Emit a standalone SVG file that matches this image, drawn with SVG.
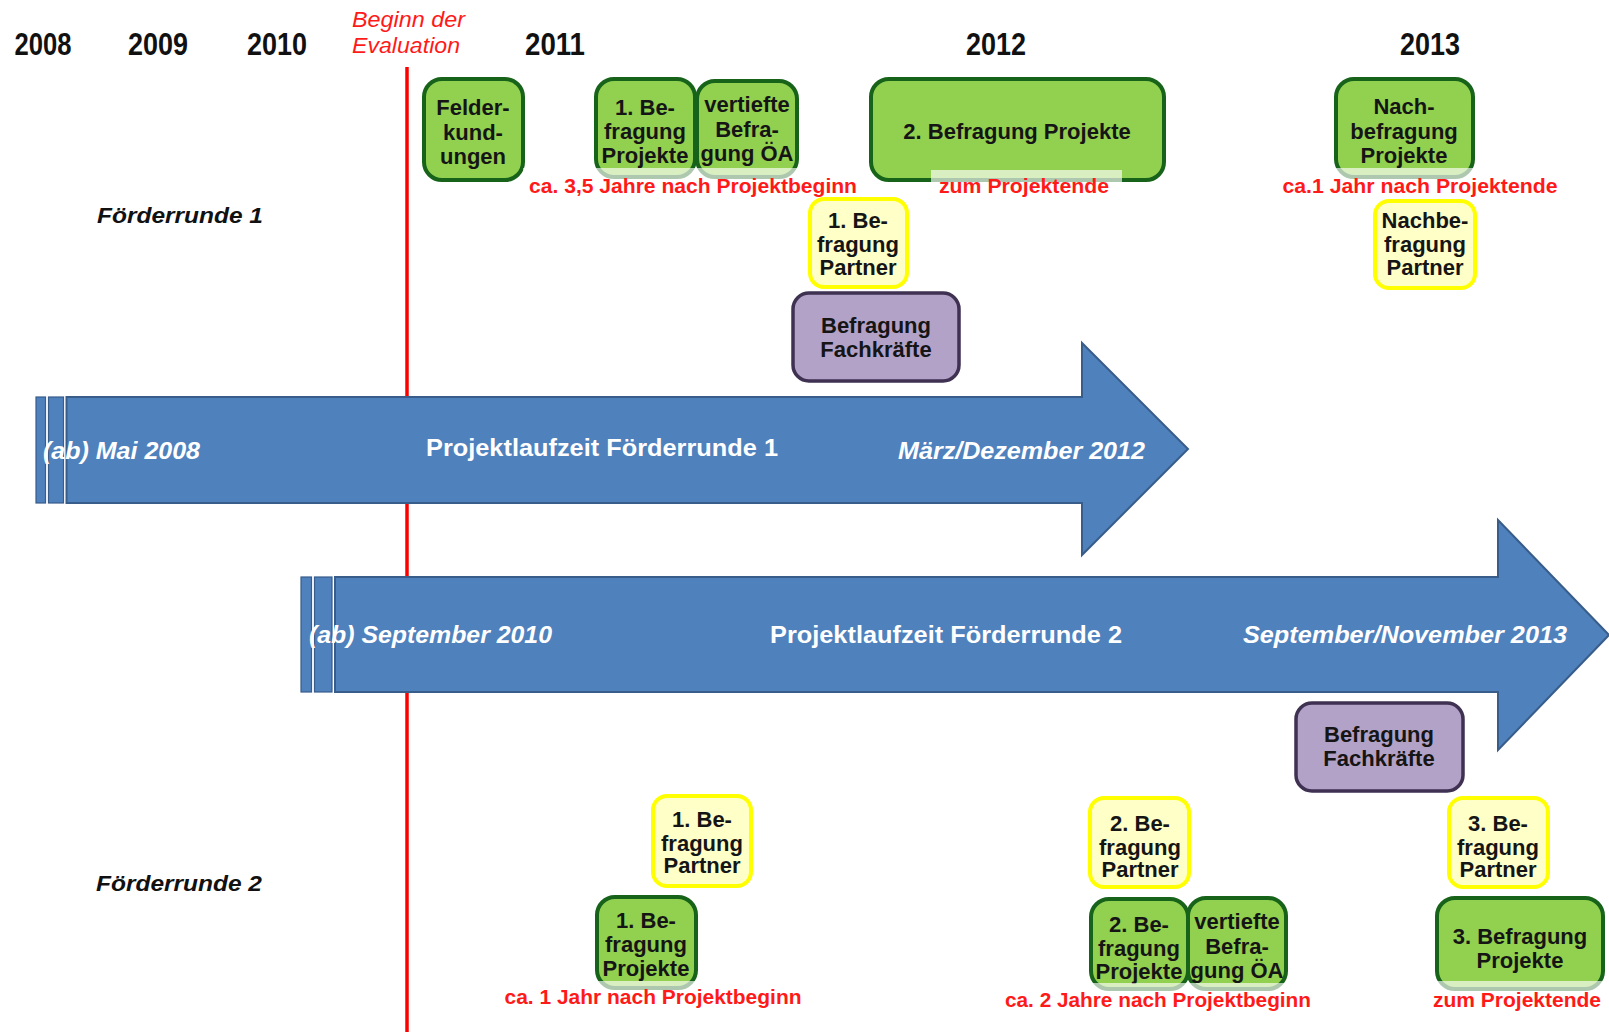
<svg xmlns="http://www.w3.org/2000/svg" width="1609" height="1032" viewBox="0 0 1609 1032">
<style>
.g{fill:#92d050;stroke:#17631a;stroke-width:4}
.y{fill:#ffffc8;stroke:#ffff00;stroke-width:4}
.p{fill:#b3a2c7;stroke:#3f3151;stroke-width:3.5}
.band{fill:#ffffff;fill-opacity:0.65;stroke:none}
.t{font-family:"Liberation Sans",Arial,sans-serif;font-weight:bold;font-size:22px;fill:#151515;text-anchor:middle}
.lab{font-family:"Liberation Sans",Arial,sans-serif;font-weight:bold;font-size:20px;fill:#ff1a1a;text-anchor:middle}
.yr{font-family:"Liberation Sans",Arial,sans-serif;font-weight:bold;font-size:31px;fill:#111;text-anchor:middle}
.fr{font-family:"Liberation Sans",Arial,sans-serif;font-weight:bold;font-style:italic;font-size:22px;fill:#111}
.ev{font-family:"Liberation Sans",Arial,sans-serif;font-style:italic;font-size:22px;fill:#ff1a1a}
.arr{fill:#4f81bd;stroke:#385d8a;stroke-width:2}
.str{fill:#4f81bd;stroke:#385d8a;stroke-width:1.2}
.at{font-family:"Liberation Sans",Arial,sans-serif;font-weight:bold;font-size:24px;fill:#ffffff}
.ai{font-style:italic}
</style>
<rect width="1609" height="1032" fill="#ffffff"/>

<g id="years">
<text class="yr" x="43" y="55" textLength="57" lengthAdjust="spacingAndGlyphs">2008</text>
<text class="yr" x="158" y="55" textLength="60" lengthAdjust="spacingAndGlyphs">2009</text>
<text class="yr" x="277" y="55" textLength="60" lengthAdjust="spacingAndGlyphs">2010</text>
<text class="yr" x="555" y="55" textLength="60" lengthAdjust="spacingAndGlyphs">2011</text>
<text class="yr" x="996" y="55" textLength="60" lengthAdjust="spacingAndGlyphs">2012</text>
<text class="yr" x="1430" y="55" textLength="60" lengthAdjust="spacingAndGlyphs">2013</text>
</g>

<g id="evaluation-start">
<text class="ev" x="352" y="27" textLength="113" lengthAdjust="spacingAndGlyphs">Beginn der</text>
<text class="ev" x="352" y="53" textLength="108" lengthAdjust="spacingAndGlyphs">Evaluation</text>
</g>

<g id="connectors">
<line x1="407" y1="67" x2="407" y2="1032" stroke="#ff0000" stroke-width="3.5"/>
</g>

<g id="round-labels">
<text class="fr" x="97" y="223" textLength="166" lengthAdjust="spacingAndGlyphs">Förderrunde 1</text>
<text class="fr" x="96" y="891" textLength="166" lengthAdjust="spacingAndGlyphs">Förderrunde 2</text>
</g>

<g id="arrow-fr1">
<rect class="str" x="36" y="397" width="9.5" height="106"/>
<rect class="str" x="48.5" y="397" width="15" height="106"/>
<polygon class="arr" points="66.5,397 1082,397 1082,343 1188,449 1082,555 1082,503 66.5,503"/>
<text class="at ai" x="43" y="459" textLength="157" lengthAdjust="spacingAndGlyphs">(ab) Mai 2008</text>
<text class="at" x="426" y="456" textLength="352" lengthAdjust="spacingAndGlyphs">Projektlaufzeit Förderrunde 1</text>
<text class="at ai" x="898" y="459" textLength="247" lengthAdjust="spacingAndGlyphs">März/Dezember 2012</text>
</g>

<g id="arrow-fr2">
<rect class="str" x="301" y="577" width="10.5" height="115"/>
<rect class="str" x="314.5" y="577" width="17.5" height="115"/>
<polygon class="arr" points="335,577 1498,577 1498,520 1609,635 1498,750 1498,692 335,692"/>
<text class="at ai" x="309" y="643" textLength="243" lengthAdjust="spacingAndGlyphs">(ab) September 2010</text>
<text class="at" x="770" y="643" textLength="352" lengthAdjust="spacingAndGlyphs">Projektlaufzeit Förderrunde 2</text>
<text class="at ai" x="1243" y="643" textLength="324" lengthAdjust="spacingAndGlyphs">September/November 2013</text>
</g>

<!-- Förderrunde 1 -->
<g id="felderkundungen">
<rect class="g" x="424" y="79" width="99" height="101" rx="18"/>
<text class="t" x="473" y="115">Felder-</text>
<text class="t" x="473" y="140">kund-</text>
<text class="t" x="473" y="164">ungen</text>
</g>

<g id="fr1-befragung-projekte-1">
<rect class="g" x="596" y="79" width="99" height="98" rx="18"/>
<text class="t" x="645" y="115">1. Be-</text>
<text class="t" x="645" y="139">fragung</text>
<text class="t" x="645" y="163">Projekte</text>
</g>

<g id="fr1-vertiefte-befragung">
<rect class="g" x="697" y="81" width="100" height="96" rx="18"/>
<text class="t" x="747" y="112">vertiefte</text>
<text class="t" x="747" y="137">Befra-</text>
<text class="t" x="747" y="161">gung ÖA</text>
</g>

<g id="fr1-label-35-jahre">
<rect class="band" x="523" y="168" width="340" height="32"/>
<text class="lab" x="693" y="193" textLength="328" lengthAdjust="spacingAndGlyphs">ca. 3,5 Jahre nach Projektbeginn</text>
</g>

<g id="fr1-befragung-projekte-2">
<rect class="g" x="871" y="79" width="293" height="101" rx="18"/>
<text class="t" x="1017" y="139">2. Befragung Projekte</text>
</g>

<g id="fr1-label-projektende">
<rect class="band" x="931" y="170" width="191" height="30"/>
<text class="lab" x="1024" y="193" textLength="170" lengthAdjust="spacingAndGlyphs">zum Projektende</text>
</g>

<g id="fr1-nachbefragung-projekte">
<rect class="g" x="1336" y="79" width="137" height="98" rx="18"/>
<text class="t" x="1404" y="114">Nach-</text>
<text class="t" x="1404" y="139">befragung</text>
<text class="t" x="1404" y="163">Projekte</text>
</g>

<g id="fr1-label-1-jahr">
<rect class="band" x="1277" y="168" width="287" height="32"/>
<text class="lab" x="1420" y="193" textLength="275" lengthAdjust="spacingAndGlyphs">ca.1 Jahr nach Projektende</text>
</g>

<g id="fr1-befragung-partner-1">
<rect class="y" x="810" y="199" width="97" height="88" rx="14"/>
<text class="t" x="858" y="228">1. Be-</text>
<text class="t" x="858" y="252">fragung</text>
<text class="t" x="858" y="275">Partner</text>
</g>

<g id="fr1-nachbefragung-partner">
<rect class="y" x="1375" y="201" width="100" height="87" rx="14"/>
<text class="t" x="1425" y="228">Nachbe-</text>
<text class="t" x="1425" y="252">fragung</text>
<text class="t" x="1425" y="275">Partner</text>
</g>

<g id="fr1-befragung-fachkraefte">
<rect class="p" x="793" y="293" width="166" height="88" rx="16"/>
<text class="t" x="876" y="333">Befragung</text>
<text class="t" x="876" y="357">Fachkräfte</text>
</g>

<!-- Förderrunde 2 -->
<g id="fr2-befragung-fachkraefte">
<rect class="p" x="1296" y="703" width="167" height="88" rx="16"/>
<text class="t" x="1379" y="742">Befragung</text>
<text class="t" x="1379" y="766">Fachkräfte</text>
</g>

<g id="fr2-befragung-partner-1">
<rect class="y" x="653" y="796" width="98" height="90" rx="14"/>
<text class="t" x="702" y="827">1. Be-</text>
<text class="t" x="702" y="851">fragung</text>
<text class="t" x="702" y="873">Partner</text>
</g>

<g id="fr2-befragung-partner-2">
<rect class="y" x="1090" y="798" width="99" height="89" rx="14"/>
<text class="t" x="1140" y="831">2. Be-</text>
<text class="t" x="1140" y="855">fragung</text>
<text class="t" x="1140" y="877">Partner</text>
</g>

<g id="fr2-befragung-partner-3">
<rect class="y" x="1449" y="798" width="99" height="89" rx="14"/>
<text class="t" x="1498" y="831">3. Be-</text>
<text class="t" x="1498" y="855">fragung</text>
<text class="t" x="1498" y="877">Partner</text>
</g>

<g id="fr2-befragung-projekte-1">
<rect class="g" x="597" y="897" width="99" height="91" rx="18"/>
<text class="t" x="646" y="928">1. Be-</text>
<text class="t" x="646" y="952">fragung</text>
<text class="t" x="646" y="976">Projekte</text>
</g>

<g id="fr2-label-1-jahr">
<rect class="band" x="499" y="981" width="309" height="31"/>
<text class="lab" x="653" y="1004" textLength="297" lengthAdjust="spacingAndGlyphs">ca. 1 Jahr nach Projektbeginn</text>
</g>

<g id="fr2-befragung-projekte-2">
<rect class="g" x="1091" y="899" width="97" height="90" rx="18"/>
<text class="t" x="1139" y="932">2. Be-</text>
<text class="t" x="1139" y="956">fragung</text>
<text class="t" x="1139" y="979">Projekte</text>
</g>

<g id="fr2-vertiefte-befragung">
<rect class="g" x="1188" y="898" width="98" height="91" rx="18"/>
<text class="t" x="1237" y="929">vertiefte</text>
<text class="t" x="1237" y="954">Befra-</text>
<text class="t" x="1237" y="978">gung ÖA</text>
</g>

<g id="fr2-label-2-jahre">
<rect class="band" x="999" y="983" width="318" height="31"/>
<text class="lab" x="1158" y="1007" textLength="306" lengthAdjust="spacingAndGlyphs">ca. 2 Jahre nach Projektbeginn</text>
</g>

<g id="fr2-befragung-projekte-3">
<rect class="g" x="1437" y="898" width="166" height="91" rx="18"/>
<text class="t" x="1520" y="944">3. Befragung</text>
<text class="t" x="1520" y="968">Projekte</text>
</g>

<g id="fr2-label-projektende">
<rect class="band" x="1427" y="981" width="180" height="33"/>
<text class="lab" x="1517" y="1007" textLength="168" lengthAdjust="spacingAndGlyphs">zum Projektende</text>
</g>
</svg>
